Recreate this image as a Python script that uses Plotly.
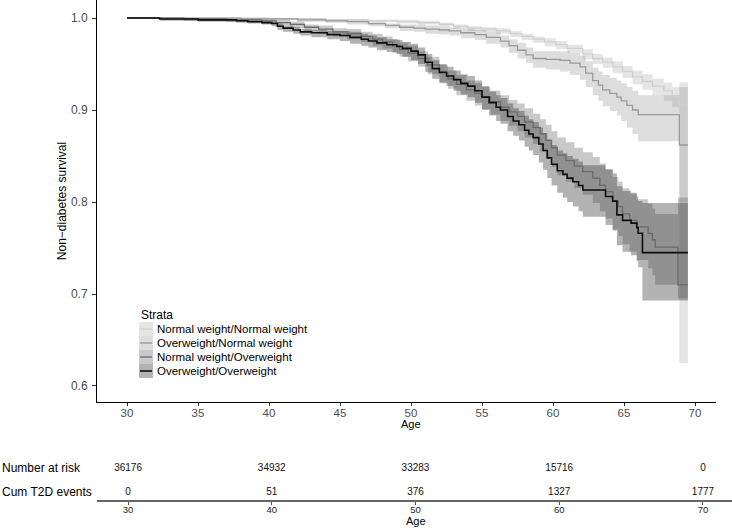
import plotly.graph_objects as go

# ---------------- data ----------------
strata = ["Normal weight/Normal weight", "Overweight/Normal weight",
          "Normal weight/Overweight", "Overweight/Overweight"]

nn_age = [30, 40, 44, 47, 49, 50.5, 52, 53, 54, 55,
          56, 57, 57.8, 58.6, 59.4, 60.2, 61, 62.1, 62.8, 63.5,
          64.2, 64.9, 65.6, 66.3, 67, 67.8, 68.4, 68.9, 69.5]
nn_surv = [1.0, 0.999, 0.998, 0.997, 0.996, 0.995, 0.993, 0.991, 0.989, 0.988,
           0.986, 0.983, 0.980, 0.977, 0.974, 0.971, 0.967, 0.961, 0.956, 0.952,
           0.947, 0.942, 0.936, 0.931, 0.926, 0.921, 0.915, 0.905, 0.905]
nn_low = [1.0, 0.998, 0.997, 0.996, 0.994, 0.993, 0.991, 0.989, 0.986, 0.985,
          0.983, 0.979, 0.976, 0.973, 0.969, 0.966, 0.962, 0.955, 0.950, 0.946,
          0.940, 0.935, 0.928, 0.922, 0.916, 0.910, 0.903, 0.625, 0.625]
nn_up = [1.0, 1.0, 0.999, 0.998, 0.998, 0.997, 0.995, 0.993, 0.991, 0.990,
         0.989, 0.986, 0.983, 0.980, 0.978, 0.975, 0.971, 0.966, 0.961, 0.957,
         0.953, 0.948, 0.943, 0.939, 0.934, 0.930, 0.925, 0.930, 0.930]

on_age = [30, 38, 42, 44, 45.5, 47, 48.2, 49.2, 50.2, 51,
          52, 52.7, 53.5, 54.5, 55.3, 56.3, 56.9, 57.5, 58.1, 58.6,
          59.5, 60.5, 61.2, 61.9, 62.3, 62.8, 63.2, 63.5, 64.0, 64.5,
          64.8, 65.2, 65.6, 66.0, 68.9, 69.5]
on_surv = [1.0, 0.999, 0.998, 0.997, 0.996, 0.994, 0.992, 0.990, 0.989, 0.988,
           0.987, 0.986, 0.984, 0.982, 0.979, 0.975, 0.970, 0.965, 0.960, 0.956,
           0.955, 0.954, 0.951, 0.947, 0.940, 0.932, 0.927, 0.922, 0.918, 0.914,
           0.910, 0.905, 0.900, 0.895, 0.862, 0.862]
on_low = [1.0, 0.998, 0.996, 0.995, 0.993, 0.991, 0.989, 0.986, 0.985, 0.983,
          0.982, 0.981, 0.978, 0.976, 0.972, 0.968, 0.962, 0.956, 0.951, 0.946,
          0.944, 0.942, 0.938, 0.933, 0.925, 0.916, 0.910, 0.904, 0.899, 0.894,
          0.888, 0.881, 0.874, 0.866, 0.800, 0.800]
on_up = [1.0, 1.0, 1.0, 0.999, 0.998, 0.996, 0.994, 0.993, 0.993, 0.992,
         0.991, 0.990, 0.989, 0.987, 0.985, 0.981, 0.977, 0.973, 0.968, 0.964,
         0.964, 0.964, 0.962, 0.959, 0.953, 0.946, 0.942, 0.938, 0.935, 0.932,
         0.929, 0.925, 0.921, 0.916, 0.925, 0.925]

no_age = [30, 34, 37, 39.5,
          40.5, 41.5, 42.5, 43.5, 44.5, 45.5, 46.5, 47.3, 48.0, 48.7,
          49.2, 49.8, 50.5, 51.2, 52.0, 52.6, 53.2, 53.9, 54.5, 55.0,
          55.6, 56.3, 56.9, 57.5, 58.0, 58.6, 59.1, 59.5, 59.9, 60.3,
          60.9, 61.5, 62.1, 62.8, 63.3, 63.7, 64.2, 64.6, 64.9, 65.4,
          65.9, 66.7, 67.0, 67.2, 68.8, 69.5]
no_surv = [1.0, 0.999, 0.998, 0.997,
           0.995, 0.993, 0.990, 0.988, 0.985, 0.983, 0.980, 0.977, 0.974, 0.970,
           0.966, 0.962, 0.956, 0.949, 0.940, 0.934, 0.928, 0.922, 0.918, 0.914,
           0.909, 0.903, 0.898, 0.893, 0.887, 0.881, 0.874, 0.867, 0.859, 0.851,
           0.845, 0.839, 0.833, 0.826, 0.818, 0.811, 0.801, 0.795, 0.787, 0.780,
           0.773, 0.766, 0.759, 0.751, 0.710, 0.710]
no_low = [1.0, 0.997, 0.996, 0.994,
          0.992, 0.989, 0.986, 0.983, 0.980, 0.977, 0.974, 0.970, 0.967, 0.962,
          0.958, 0.953, 0.947, 0.939, 0.929, 0.923, 0.916, 0.910, 0.905, 0.901,
          0.895, 0.888, 0.883, 0.877, 0.870, 0.863, 0.855, 0.847, 0.838, 0.829,
          0.822, 0.815, 0.808, 0.799, 0.790, 0.782, 0.770, 0.763, 0.754, 0.746,
          0.737, 0.728, 0.720, 0.710, 0.695, 0.695]
no_up = [1.0, 1.0, 1.0, 0.999,
         0.998, 0.996, 0.993, 0.992, 0.989, 0.988, 0.985, 0.983, 0.980, 0.977,
         0.973, 0.970, 0.964, 0.958, 0.949, 0.943, 0.938, 0.932, 0.929, 0.925,
         0.921, 0.916, 0.911, 0.907, 0.902, 0.896, 0.890, 0.884, 0.877, 0.870,
         0.865, 0.859, 0.854, 0.849, 0.842, 0.836, 0.827, 0.822, 0.815, 0.809,
         0.803, 0.798, 0.793, 0.787, 0.805, 0.805]

oo_age = [30, 32.3, 35.0, 37.7, 38.5, 39.5,
          40.2, 40.6, 41.0, 41.7, 42.2, 43.0, 44.1,
          45.0, 45.7, 46.5, 47.0, 47.6, 48.3, 49.0, 49.4,
          50.0, 50.5, 51.0, 51.5, 52.0, 52.5, 53.0, 53.5, 54.0, 54.5,
          55.0, 55.5, 56.0, 56.3, 56.8, 57.2, 57.6, 58.0, 58.3, 58.6,
          59.0, 59.3, 59.6, 59.9, 60.3, 60.7, 61.0, 61.4, 61.8, 62.1,
          63.7, 64.2, 64.5, 64.9, 65.5, 65.9, 66.0, 66.3, 69.5]
oo_surv = [1.0, 0.999, 0.998, 0.997, 0.996, 0.995,
           0.994, 0.991, 0.989, 0.987, 0.985, 0.984, 0.982,
           0.981, 0.979, 0.977, 0.975, 0.973, 0.971, 0.969, 0.967,
           0.964, 0.960, 0.952, 0.945, 0.941, 0.937, 0.933, 0.929, 0.926, 0.921,
           0.914, 0.908, 0.903, 0.900, 0.893, 0.888, 0.884, 0.878, 0.874, 0.870,
           0.863, 0.856, 0.848, 0.841, 0.834, 0.830, 0.826, 0.822, 0.818, 0.813,
           0.806, 0.801, 0.786, 0.780, 0.777, 0.772, 0.766, 0.745, 0.745]
oo_low = [1.0, 0.997, 0.996, 0.995, 0.994, 0.993,
          0.991, 0.987, 0.985, 0.983, 0.981, 0.979, 0.977,
          0.975, 0.972, 0.970, 0.968, 0.965, 0.963, 0.961, 0.958,
          0.954, 0.950, 0.941, 0.934, 0.930, 0.926, 0.921, 0.917, 0.914, 0.908,
          0.900, 0.894, 0.888, 0.885, 0.877, 0.872, 0.867, 0.860, 0.856, 0.851,
          0.843, 0.835, 0.826, 0.818, 0.810, 0.805, 0.800, 0.795, 0.790, 0.784,
          0.775, 0.769, 0.753, 0.746, 0.742, 0.736, 0.729, 0.693, 0.693]
oo_up = [1.0, 1.0, 1.0, 0.999, 0.998, 0.997,
         0.996, 0.994, 0.992, 0.990, 0.988, 0.987, 0.986,
         0.986, 0.985, 0.983, 0.981, 0.979, 0.977, 0.976, 0.974,
         0.972, 0.968, 0.961, 0.954, 0.950, 0.947, 0.943, 0.939, 0.937, 0.932,
         0.926, 0.920, 0.916, 0.913, 0.907, 0.902, 0.899, 0.894, 0.890, 0.887,
         0.881, 0.875, 0.868, 0.862, 0.856, 0.853, 0.850, 0.847, 0.844, 0.840,
         0.835, 0.831, 0.817, 0.812, 0.810, 0.806, 0.801, 0.799, 0.799]

table_ages = [30, 40, 50, 60, 70]
n_at_risk = [36176, 34932, 33283, 15716, 0]
cum_events = [0, 51, 376, 1327, 1777]
row_labels = ["Number at risk", "Cum T2D events"]

y_ticks = [0.6, 0.7, 0.8, 0.9, 1.0]
x_ticks = [30, 35, 40, 45, 50, 55, 60, 65, 70]
table_ticks = [30, 40, 50, 60, 70]

# ---------------- styles ----------------
FONT = "Liberation Sans, Arial, sans-serif"
line_colors = ["#d0d0d0", "#9a9a9a", "#6a6a6a", "#0d0d0d"]
fill_colors = ["rgba(175,175,175,0.33)", "rgba(158,158,158,0.35)",
               "rgba(100,100,100,0.35)", "rgba(55,55,55,0.38)"]
line_widths = [1.3, 1.3, 1.3, 1.6]

series = [(nn_age, nn_surv, nn_low, nn_up), (on_age, on_surv, on_low, on_up),
          (no_age, no_surv, no_low, no_up), (oo_age, oo_surv, oo_low, oo_up)]

fig = go.Figure()

# confidence bands
for i, (age, surv, low, up) in enumerate(series):
    fig.add_trace(go.Scatter(x=age, y=low, mode="lines", line=dict(width=0, shape="hv"),
                             showlegend=False, hoverinfo="skip", xaxis="x", yaxis="y"))
    fig.add_trace(go.Scatter(x=age, y=up, mode="lines", line=dict(width=0, shape="hv"),
                             fill="tonexty", fillcolor=fill_colors[i],
                             showlegend=False, hoverinfo="skip", xaxis="x", yaxis="y"))

# survival curves
for i, (age, surv, low, up) in enumerate(series):
    fig.add_trace(go.Scatter(x=age, y=surv, mode="lines", name=strata[i],
                             line=dict(color=line_colors[i], width=line_widths[i], shape="hv"),
                             showlegend=False, xaxis="x", yaxis="y"))

# risk table
ROW_Y = [0.68, 0.16]
fig.add_trace(go.Scatter(x=table_ages, y=[ROW_Y[0]] * len(table_ages), mode="text",
                         text=[str(v) for v in n_at_risk],
                         textfont=dict(family=FONT, size=10, color="#111"),
                         showlegend=False, hoverinfo="skip", xaxis="x2", yaxis="y2"))
fig.add_trace(go.Scatter(x=table_ages, y=[ROW_Y[1]] * len(table_ages), mode="text",
                         text=[str(v) for v in cum_events],
                         textfont=dict(family=FONT, size=10, color="#111"),
                         showlegend=False, hoverinfo="skip", xaxis="x2", yaxis="y2"))

W, H = 732, 528
ML, MR, MT, MB = 97, 0, 0, 28
PW, PH = W - ML - MR, H - MT - MB


def px(x):
    return (x - ML) / PW


def py(y):
    return (H - MB - y) / PH


annotations = []
for lab, yy in zip(row_labels, ROW_Y):
    annotations.append(dict(text=lab, xref="paper", yref="y2", x=-ML / PW, y=yy,
                            xanchor="left", yanchor="middle", showarrow=False,
                            font=dict(family=FONT, size=12, color="#000")))

# axis titles for the x axes
annotations.append(dict(text="Age", xref="x", yref="paper", x=50, y=py(424),
                        xanchor="center", yanchor="middle", showarrow=False,
                        font=dict(family=FONT, size=11, color="#000")))
annotations.append(dict(text="Age", xref="x2", yref="paper", x=50, y=py(520.5),
                        xanchor="center", yanchor="middle", showarrow=False,
                        font=dict(family=FONT, size=11, color="#000")))

# legend (ggplot-style keys)
shapes = []
annotations.append(dict(text="Strata", xref="paper", yref="paper", x=px(139), y=py(315),
                        xanchor="left", yanchor="middle", showarrow=False,
                        font=dict(family=FONT, size=12, color="#000")))
for i, name in enumerate(strata):
    cy = 329 + 14 * i
    shapes.append(dict(type="rect", xref="paper", yref="paper", x0=px(139), x1=px(153),
                       y0=py(cy + 7), y1=py(cy - 7), fillcolor=fill_colors[i], line=dict(width=0)))
    shapes.append(dict(type="line", xref="paper", yref="paper", x0=px(140), x1=px(152),
                       y0=py(cy), y1=py(cy), line=dict(color=line_colors[i], width=line_widths[i])))
    annotations.append(dict(text=name, xref="paper", yref="paper", x=px(155), y=py(cy),
                            xanchor="left", yanchor="middle", showarrow=False,
                            font=dict(family=FONT, size=11.5, color="#000")))

fig.update_layout(
    width=W, height=H,
    margin=dict(l=ML, r=MR, t=MT, b=MB),
    paper_bgcolor="white", plot_bgcolor="white",
    font=dict(family=FONT, color="#000"),
    showlegend=False,
    xaxis=dict(domain=[0, px(716)], range=[27.887, 71.479], anchor="y",
               tickvals=x_ticks, ticks="outside", ticklen=3, tickcolor="#333",
               ticklabelstandoff=-3,
               showline=True, linecolor="#000", linewidth=1, showgrid=False, zeroline=False,
               tickfont=dict(family=FONT, size=11.5, color="#4d4d4d")),
    yaxis=dict(domain=[py(402), 1], range=[0.5826, 1.0196], anchor="x",
               tickvals=y_ticks, ticktext=["%.1f" % v for v in y_ticks],
               ticks="outside", ticklen=4, tickcolor="#333", ticklabelstandoff=2,
               showline=True, linecolor="#000", linewidth=1, showgrid=False, zeroline=False,
               tickfont=dict(family=FONT, size=12, color="#4d4d4d"),
               title=dict(text="Non\u2212diabetes survival", font=dict(family=FONT, size=12, color="#000"),
                          standoff=1)),
    xaxis2=dict(domain=[0, 1], range=[27.84, 72.02], anchor="y2",
                tickvals=table_ticks, ticks="outside", ticklen=3, tickcolor="#555",
                ticklabelstandoff=-3,
                showline=True, linecolor="#666", linewidth=1.5, showgrid=False, zeroline=False,
                tickfont=dict(family=FONT, size=9.5, color="#222")),
    yaxis2=dict(domain=[0, py(453)], range=[0, 1], anchor="x2", visible=False, fixedrange=True),
    annotations=annotations,
    shapes=shapes,
)

fig.write_html("out.html", config={"displayModeBar": False},
               post_script="document.body.style.margin='0px';")
